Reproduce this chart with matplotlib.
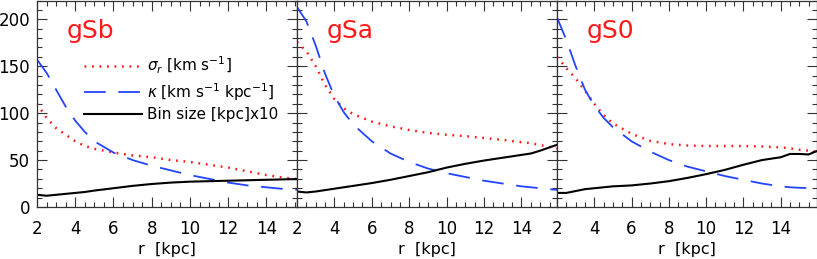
import numpy as np
import matplotlib
matplotlib.use("Agg")
from matplotlib import pyplot as plt
from matplotlib.ticker import MultipleLocator

plt.rcParams['font.family'] = ['DejaVu Sans']
plt.rcParams['mathtext.fontset'] = 'dejavusans'

# radius grid [kpc] shared by all three galaxies
r = [2, 2.5, 3, 3.5, 4, 4.5, 5, 6, 7, 8, 9, 10, 11, 12, 13, 14, 14.5, 15, 15.5, 16]

names = ['gSb', 'gSa', 'gS0']

# sigma_r [km/s]
sig_sb = [110, 95, 84, 77, 70, 65, 62, 58, 55, 53, 50, 48, 45, 42, 38, 34, 32.5, 31, 30, 29]
sig_sa = [176, 166, 150, 130, 115, 105, 99, 91, 86, 82, 79, 77, 75.5, 73.5, 71.5, 69, 68, 66, 64, 62]
sig_s0 = [160, 148, 137, 124, 110, 98, 89, 78, 70.5, 67, 65.5, 65, 65, 65, 64.5, 63.5, 62.5, 61, 60, 59]

# kappa [km/s/kpc]
kap_sb = [157, 143, 125, 107, 92, 80, 70, 58, 50, 44, 39, 34, 30, 26, 23, 21, 20, 19, 18.5, 18]
kap_sa = [213, 198, 172, 142, 118, 101, 88, 70, 57, 48, 41, 36, 32, 28, 25, 22, 21, 20, 19, 18]
kap_s0 = [202, 178, 150, 125, 108, 95, 85, 70, 59, 50, 43, 38, 33, 29, 25, 22, 21, 20.5, 20.2, 20]

# bin size [kpc] x10
bin_sb = [13, 12, 13, 14, 15, 16, 17.5, 20, 22.5, 24.5, 26, 27, 27.5, 28, 28.5, 29, 29.2, 29.5, 29.7, 30]
bin_sa = [16.5, 15.5, 16.5, 18, 19.5, 21, 22.5, 25.5, 29, 33, 37, 42, 46, 49.5, 52.5, 55.5, 57, 60, 63.5, 67]
bin_s0 = [15, 15, 17, 19, 20, 21, 22, 23, 25, 27.5, 31, 35, 39.5, 45, 50, 53, 56.5, 56.5, 56, 60]

sigs = [sig_sb, sig_sa, sig_s0]
kaps = [kap_sb, kap_sa, kap_s0]
bins = [bin_sb, bin_sa, bin_s0]
xmax = [15.6, 15.9, 15.95]

red = '#ff1a1a'
blue = '#2244ff'

fig = plt.figure(figsize=(8.17, 2.59), dpi=100)

W, H = 817.0, 259.0
left0 = 37
pw = 260
top_px = 0.5
bot_px = 207

for i in range(3):
    ax = fig.add_axes([(left0 + i*pw)/W, (H - bot_px)/H, pw/W, (bot_px - top_px)/H])
    ax.plot(r, sigs[i], color=red, lw=1.8, ls=(0, (0.7, 2.3)), label=r'$\sigma_r$ [km s$^{-1}$]')
    ax.plot(r, kaps[i], color=blue, lw=1.3, ls=(0, (12, 7)), label=r'$\kappa$ [km s$^{-1}$ kpc$^{-1}$]')
    ax.plot(r, bins[i], color='black', lw=1.5, label='Bin size [kpc]x10')

    ax.set_xlim(2, xmax[i])
    ax.set_ylim(0, 220)
    ax.xaxis.set_major_locator(MultipleLocator(2))
    ax.xaxis.set_minor_locator(MultipleLocator(0.5))
    ax.yaxis.set_major_locator(MultipleLocator(50))
    ax.yaxis.set_minor_locator(MultipleLocator(10))
    ax.tick_params(which='both', direction='in', top=True, right=True, color='#333333')
    ax.tick_params(which='major', length=7, width=0.8, labelsize=12)
    ax.tick_params(which='minor', length=3.5, width=0.8)
    ax.tick_params(axis='x', pad=9)
    ax.tick_params(axis='y', pad=5)
    for s in ax.spines.values():
        s.set_color('#333333')
        s.set_linewidth(0.9)
    if i > 0:
        ax.set_yticklabels([])
    ax.set_xlabel('r  [kpc]', fontsize=11.5, labelpad=3)
    ax.text(0.115, 0.82, names[i], transform=ax.transAxes, color=red,
            fontsize=18, ha='left', va='baseline')
    if i == 0:
        ax.legend(loc='upper left', bbox_to_anchor=(0.18, 0.735), frameon=False,
                  fontsize=11, handlelength=3.8, handletextpad=0.35,
                  labelspacing=0.3, borderpad=0, borderaxespad=0)

fig.savefig('out.png', dpi=100)
